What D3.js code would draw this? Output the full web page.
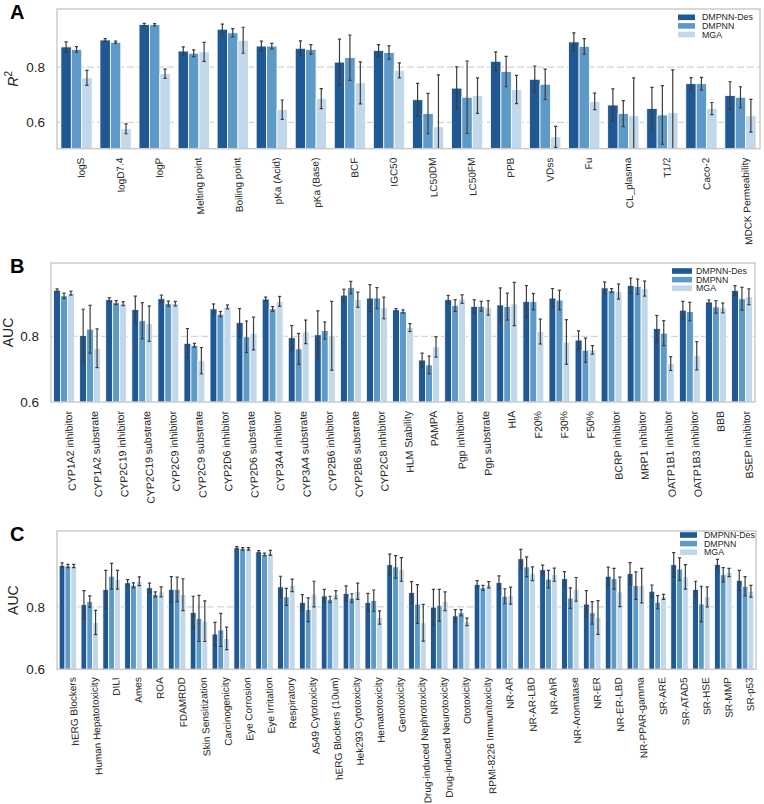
<!DOCTYPE html>
<html><head><meta charset="utf-8">
<script src="https://cdn.jsdelivr.net/npm/d3@7"></script>
<style>body{margin:0;background:#fff} text{font-family:"Liberation Sans",Arial,sans-serif}</style>
</head><body><svg id="c" width="764" height="804"></svg>
<script>
const seriesNames = ["DMPNN-Des","DMPNN","MGA"];
const colors = ["#1f5893","#5e9ac8","#c1d7ea"];

const aLabels = ["logS","logD7.4","logP","Melting point","Boiling point","pKa (Acid)","pKa (Base)","BCF","IGC50","LC50DM","LC50FM","PPB","VDss","Fu","CL_plasma","T1/2","Caco-2","MDCK Permeability"];
const aDes = [0.873,0.898,0.954,0.858,0.937,0.876,0.868,0.818,0.860,0.682,0.724,0.821,0.756,0.891,0.663,0.650,0.740,0.697];
const aDesErr = [0.018,0.005,0.004,0.015,0.018,0.018,0.027,0.083,0.021,0.059,0.077,0.034,0.048,0.033,0.058,0.077,0.022,0.050];
const aDmpnn = [0.864,0.890,0.953,0.850,0.924,0.876,0.864,0.834,0.853,0.632,0.691,0.784,0.738,0.875,0.632,0.627,0.740,0.691];
const aDmpnnErr = [0.010,0.004,0.004,0.012,0.015,0.010,0.017,0.082,0.024,0.073,0.131,0.055,0.055,0.028,0.047,0.106,0.023,0.038];
const aMga = [0.761,0.577,0.776,0.855,0.897,0.646,0.686,0.743,0.788,0.584,0.697,0.719,0.548,0.676,0.624,0.635,0.650,0.624];
const aMgaErr = [0.027,0.018,0.017,0.034,0.047,0.035,0.036,0.076,0.027,0.188,0.064,0.051,0.038,0.030,0.137,0.155,0.022,0.059];

const bLabels = ["CYP1A2 inhibitor","CYP1A2 substrate","CYP2C19 inhibitor","CYP2C19 substrate","CYP2C9 inhibitor","CYP2C9 substrate","CYP2D6 inhibitor","CYP2D6 substrate","CYP3A4 inhibitor","CYP3A4 substrate","CYP2B6 inhibitor","CYP2B6 substrate","CYP2C8 inhibitor","HLM Stability","PAMPA","Pgp inhibitor","Pgp substrate","HIA","F20%","F30%","F50%","BCRP inhibitor","MRP1 inhibitor","OATP1B1 inhibitor","OATP1B3 inhibitor","BBB","BSEP inhibitor"];
const bDes = [0.941,0.803,0.912,0.882,0.915,0.779,0.884,0.842,0.914,0.796,0.805,0.926,0.917,0.881,0.728,0.912,0.891,0.896,0.907,0.917,0.789,0.948,0.955,0.824,0.880,0.905,0.940];
const bDesErr = [0.004,0.080,0.006,0.041,0.011,0.045,0.015,0.043,0.006,0.037,0.073,0.018,0.041,0.004,0.021,0.013,0.021,0.052,0.048,0.029,0.028,0.018,0.023,0.040,0.027,0.006,0.015];
const bDmpnn = [0.924,0.822,0.903,0.848,0.900,0.773,0.868,0.799,0.884,0.762,0.818,0.949,0.917,0.876,0.713,0.894,0.892,0.891,0.906,0.911,0.758,0.940,0.952,0.810,0.876,0.890,0.915];
const bDmpnnErr = [0.008,0.073,0.006,0.055,0.008,0.006,0.008,0.048,0.007,0.047,0.026,0.019,0.032,0.005,0.027,0.018,0.015,0.041,0.025,0.030,0.037,0.006,0.023,0.038,0.028,0.019,0.035];
const bMga = [0.932,0.764,0.900,0.839,0.900,0.726,0.890,0.809,0.907,0.814,0.802,0.912,0.887,0.827,0.768,0.914,0.887,0.899,0.815,0.783,0.759,0.937,0.946,0.717,0.741,0.887,0.921];
const bMgaErr = [0.006,0.059,0.006,0.054,0.007,0.040,0.006,0.050,0.015,0.036,0.105,0.023,0.033,0.012,0.031,0.013,0.022,0.066,0.038,0.068,0.013,0.023,0.023,0.021,0.043,0.015,0.024];

const cLabels = ["hERG Blockers","Human Hepatotoxicity","DILI","Ames","ROA","FDAMRDD","Skin Sensitization","Carcinogenicity","Eye Corrosion","Eye Irritation","Respiratory","A549 Cytotoxicity","hERG Blockers (10um)","Hek293 Cytotoxicity","Hematotoxicity","Genotoxicity","Drug-induced Nephrotoxicity","Drug-induced Neurotoxicity","Ototoxicity","RPMI-8226 Immunitoxicity","NR-AR","NR-AR-LBD","NR-AhR","NR-Aromatase","NR-ER","NR-ER-LBD","NR-PPAR-gamma","SR-ARE","SR-ATAD5","SR-HSE","SR-MMP","SR-p53"];
const cDes = [0.933,0.807,0.856,0.877,0.861,0.856,0.782,0.713,0.989,0.976,0.864,0.814,0.835,0.843,0.814,0.935,0.846,0.799,0.771,0.872,0.878,0.954,0.919,0.890,0.809,0.898,0.907,0.850,0.935,0.856,0.936,0.885];
const cDesErr = [0.008,0.045,0.061,0.010,0.015,0.041,0.052,0.037,0.004,0.004,0.034,0.025,0.021,0.024,0.029,0.034,0.035,0.057,0.020,0.012,0.021,0.030,0.015,0.023,0.043,0.029,0.035,0.020,0.039,0.026,0.016,0.032];
const cDmpnn = [0.931,0.817,0.898,0.869,0.840,0.856,0.763,0.726,0.986,0.968,0.832,0.791,0.824,0.828,0.820,0.928,0.809,0.805,0.781,0.861,0.834,0.928,0.889,0.828,0.781,0.890,0.868,0.815,0.921,0.809,0.903,0.866];
const cDmpnnErr = [0.005,0.018,0.041,0.008,0.008,0.039,0.074,0.053,0.004,0.004,0.027,0.038,0.010,0.014,0.034,0.036,0.062,0.051,0.010,0.008,0.024,0.032,0.028,0.033,0.036,0.033,0.044,0.021,0.036,0.057,0.023,0.031];
const cMga = [0.931,0.750,0.887,0.882,0.848,0.839,0.754,0.699,0.986,0.973,0.869,0.841,0.839,0.850,0.766,0.920,0.749,0.818,0.752,0.871,0.836,0.906,0.903,0.856,0.766,0.848,0.868,0.832,0.896,0.832,0.910,0.850];
const cMgaErr = [0.005,0.039,0.030,0.014,0.016,0.051,0.065,0.036,0.004,0.008,0.020,0.041,0.013,0.026,0.021,0.038,0.059,0.030,0.012,0.010,0.027,0.022,0.021,0.038,0.054,0.047,0.055,0.008,0.039,0.032,0.013,0.019];

const yTicks = [0.6, 0.8];

const svg = d3.select("#c");

function panel(cfg) {
  const {id, letter, labels, vals, errs, left, right, top, bottom, yDomain, yTitle, titleX, legX, legTextX, legY, labelFont, labelDx, labelGap} = cfg;
  const g = svg.append("g");
  const x = d3.scaleBand().domain(labels).range([left, right]).paddingInner(0.2).paddingOuter(0.1);
  const xi = d3.scaleBand().domain([0,1,2]).range([0, x.bandwidth()]);
  const y = d3.scaleLinear().domain(yDomain).range([bottom, top]);

  g.append("clipPath").attr("id", "clip" + id).append("rect")
    .attr("x", left).attr("y", top).attr("width", right - left).attr("height", bottom - top);

  g.selectAll(".grid").data(yTicks.filter(t => t > yDomain[0] + 1e-6)).join("line")
    .attr("x1", left).attr("x2", right).attr("y1", d => y(d)).attr("y2", d => y(d))
    .attr("stroke", "#d4d4d4").attr("stroke-width", 1.2).attr("stroke-dasharray", "7,3");

  const plot = g.append("g").attr("clip-path", `url(#clip${id})`);
  const rows = [];
  labels.forEach((lab, i) => {
    for (let s = 0; s < 3; s++) rows.push({lab, s, v: vals[s][i], e: errs[s][i]});
  });
  plot.selectAll("rect.bar").data(rows).join("rect").attr("class", "bar")
    .attr("x", d => x(d.lab) + xi(d.s)).attr("width", xi.bandwidth())
    .attr("y", d => y(d.v)).attr("height", d => y(yDomain[0]) - y(d.v) + 2)
    .attr("fill", d => colors[d.s]).attr("stroke", "#fff").attr("stroke-width", 0.8);

  const cap = 1.6;
  const cx = d => x(d.lab) + xi(d.s) + xi.bandwidth()/2;
  const eb = plot.selectAll("g.eb").data(rows).join("g").attr("class", "eb")
    .attr("stroke", "#3d3d3d").attr("stroke-width", 1.2);
  eb.append("line").attr("x1", cx).attr("x2", cx)
    .attr("y1", d => y(d.v - d.e)).attr("y2", d => y(d.v + d.e));
  eb.append("line").attr("x1", d => cx(d) - cap).attr("x2", d => cx(d) + cap)
    .attr("y1", d => y(d.v + d.e)).attr("y2", d => y(d.v + d.e));
  eb.append("line").attr("x1", d => cx(d) - cap).attr("x2", d => cx(d) + cap)
    .attr("y1", d => y(d.v - d.e)).attr("y2", d => y(d.v - d.e));

  g.append("rect").attr("x", left).attr("y", top).attr("width", right - left).attr("height", bottom - top)
    .attr("fill", "none").attr("stroke", "#cccccc").attr("stroke-width", 1.5);

  const ya = g.append("g").attr("transform", `translate(${left},0)`)
    .call(d3.axisLeft(y).tickValues(yTicks).tickSize(0).tickPadding(12).tickFormat(d3.format(".1f")));
  ya.select(".domain").remove();
  ya.selectAll("text").attr("font-size", 13.5).attr("fill", "#262626").attr("font-family", '"Liberation Sans",Arial,sans-serif');

  g.selectAll("text.xl").data(labels).join("text").attr("class", "xl")
    .attr("transform", d => `translate(${x(d) + x.bandwidth()/2 + labelDx},${bottom + labelGap}) rotate(-93)`)
    .attr("text-anchor", "end").attr("dy", "0.35em")
    .attr("font-size", labelFont).attr("fill", "#262626").text(d => d);

  const yt = g.append("text").attr("transform", `translate(${titleX},${(top + bottom)/2}) rotate(-90)`)
    .attr("text-anchor", "middle").attr("font-size", 14).attr("fill", "#262626");
  if (yTitle === "R2") {
    yt.append("tspan").attr("font-style", "italic").text("R");
    yt.append("tspan").attr("dy", -6).attr("font-size", 10).text("2");
  } else yt.text(yTitle);

  g.append("text").attr("x", 10).attr("y", top + 10).attr("font-size", 20).attr("font-weight", "bold").attr("fill", "#000").text(letter);

  const lg = g.append("g");
  seriesNames.forEach((n, s) => {
    lg.append("rect").attr("x", legX[0]).attr("y", legY + s * 8.6 - 2.8).attr("width", legX[1] - legX[0]).attr("height", 5.6).attr("fill", colors[s]);
    lg.append("text").attr("x", legTextX).attr("y", legY + s * 8.6).attr("dy", "0.35em").attr("font-size", 8.8).attr("fill", "#262626").text(n);
  });
}

panel({id: "A", letter: "A", labels: aLabels, vals: [aDes, aDmpnn, aMga], errs: [aDesErr, aDmpnnErr, aMgaErr],
  left: 57, right: 760, top: 9, bottom: 148.7, yDomain: [0.505, 1.01], yTitle: "R2", titleX: 18,
  legX: [678, 695], legTextX: 702, legY: 17.3, labelFont: 10, labelDx: 4, labelGap: 9});
panel({id: "B", letter: "B", labels: bLabels, vals: [bDes, bDmpnn, bMga], errs: [bDesErr, bDmpnnErr, bMgaErr],
  left: 51, right: 755, top: 263, bottom: 402, yDomain: [0.6, 1.024], yTitle: "AUC", titleX: 13,
  legX: [672, 692], legTextX: 696, legY: 271, labelFont: 10.5, labelDx: 4, labelGap: 9});
panel({id: "C", letter: "C", labels: cLabels, vals: [cDes, cDmpnn, cMga], errs: [cDesErr, cDmpnnErr, cMgaErr],
  left: 57, right: 756, top: 531, bottom: 669.3, yDomain: [0.6, 1.043], yTitle: "AUC", titleX: 18,
  legX: [680, 697], legTextX: 704, legY: 535, labelFont: 10, labelDx: 4, labelGap: 8});
</script></body></html>
